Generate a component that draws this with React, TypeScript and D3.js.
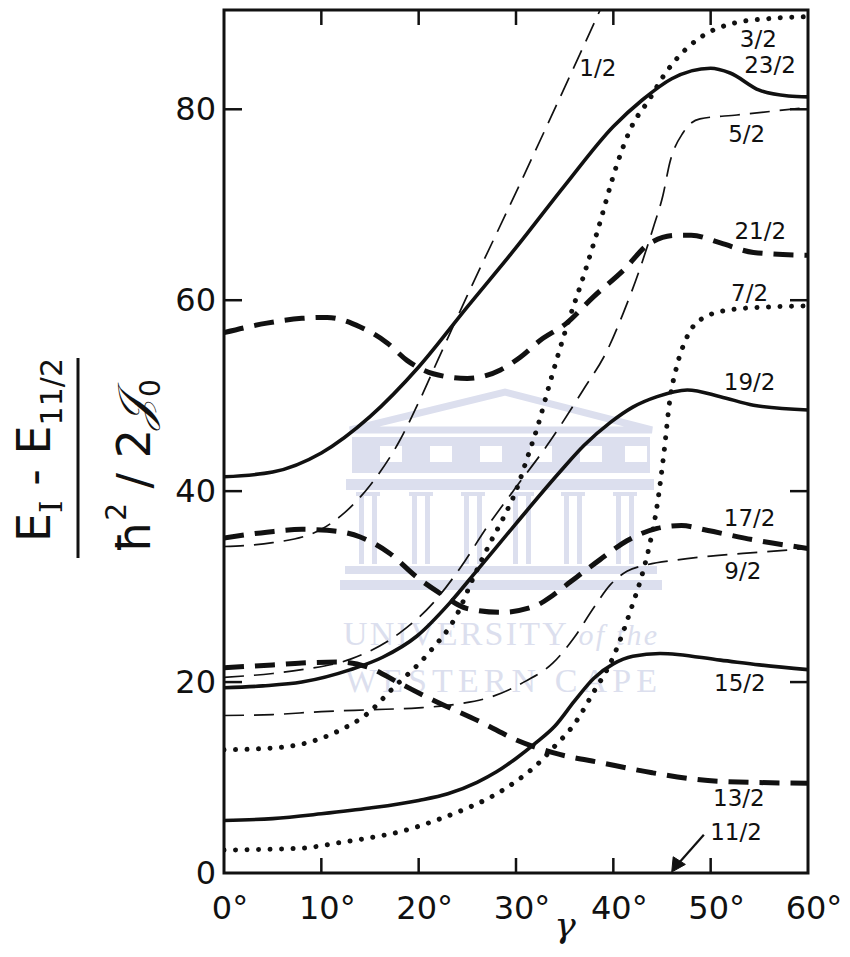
import React from "react";
import * as d3 from "d3";

const W = 850;
const H = 957;

// energy levels: [gamma (deg), (E_I - E_11/2) / (hbar^2 / 2J0)]
const level1_2 = [[0, 34.2], [5, 34.6], [10, 36], [12, 37.4], [15, 40.6], [18, 45.2], [20, 49.3], [22, 53.8], [25, 60.5], [30, 71.3], [35, 82.3], [39, 91.2]];
const level3_2 = [[0, 12.9], [5, 13.1], [8, 13.5], [12, 15], [14.5, 16.5], [17.4, 19.4], [20.9, 22.9], [24, 27.2], [25.6, 30.9], [27.3, 34.5], [28.7, 37.2], [30.1, 40.3], [31.1, 43.3], [32.2, 46.7], [33.5, 51.4], [35.2, 57.2], [36.9, 62.4], [38.3, 67], [40.4, 74.3], [41.7, 77.8], [43.8, 81.2], [45.1, 83.4], [46.6, 85.4], [48.9, 87.5], [52.3, 89], [56, 89.5], [60, 89.7]];
const level5_2 = [[0, 20.5], [5, 20.9], [8, 21.3], [13, 22.4], [18, 25.1], [21.5, 28.3], [24.3, 32], [27, 36.2], [29.7, 40], [33.2, 44.8], [36.9, 50.6], [39.4, 54.8], [41, 58.6], [42.8, 63.5], [44.1, 67.6], [45.1, 71], [45.8, 74.4], [47.2, 77.6], [48.9, 79], [52.7, 79.4], [60, 80.2]];
const level7_2 = [[0, 2.4], [5, 2.5], [8, 2.6], [12, 3.2], [15, 3.7], [18, 4.3], [22, 5.6], [25, 6.8], [27.5, 8], [30, 9.6], [32, 11.2], [34, 13.3], [36, 15.6], [38, 19], [39.7, 22], [40.7, 24.4], [41.9, 27.9], [42.8, 30.7], [43.6, 33.8], [44.5, 38.5], [45.2, 44], [45.8, 49.5], [46.5, 53], [47.5, 56], [49, 58], [52, 59], [56, 59.3], [60, 59.4]];
const level9_2 = [[0, 16.5], [5, 16.6], [10, 16.9], [15, 17.1], [20, 17.3], [24, 17.7], [27.6, 18.5], [31, 20.1], [33.8, 22], [36, 24.7], [38, 27.8], [39.7, 30.2], [41.4, 31.6], [43.5, 32.3], [46.6, 32.8], [50, 33.2], [55, 33.6], [60, 34]];
const level13_2 = [[0, 21.5], [5, 21.8], [8, 22], [12, 22.1], [14.7, 21.6], [18, 19.9], [21.5, 18.1], [26.6, 15.7], [30.1, 13.9], [33.8, 12.6], [39, 11.5], [44, 10.5], [51, 9.6], [60, 9.4]];
const level15_2 = [[0, 5.5], [5, 5.7], [10, 6.2], [15, 6.8], [20, 7.6], [23, 8.3], [26, 9.5], [28, 10.6], [30, 12], [32, 13.6], [34, 15.4], [36, 18], [38, 20.4], [40, 21.9], [42, 22.7], [44.8, 23], [51, 22.3], [55, 21.8], [60, 21.3]];
const level17_2 = [[0, 35.1], [4.4, 35.7], [8, 36], [10.6, 35.9], [14, 35.2], [17, 33.5], [19.8, 31], [22.2, 29.3], [25, 27.7], [28.4, 27.3], [31.8, 27.9], [33.8, 29.1], [35.6, 30.5], [38.6, 32.8], [41.4, 34.8], [44.5, 36.1], [47, 36.4], [49.6, 35.9], [54.4, 34.9], [60, 34]];
const level19_2 = [[0, 19.4], [4, 19.6], [8, 20], [13, 21.3], [16.3, 22.6], [19.8, 24.8], [23.2, 28.3], [26, 31.7], [30, 36.6], [34.5, 42], [37, 44.8], [39.7, 47.2], [42, 48.8], [44.5, 49.9], [47.6, 50.6], [51, 49.9], [54.4, 49], [60, 48.5]];
const level21_2 = [[0, 56.6], [4.4, 57.6], [8, 58.1], [10.6, 58.2], [14, 57.2], [16.8, 55.5], [18.8, 53.7], [21.5, 52.3], [25, 51.8], [28.4, 52.7], [30.4, 54], [32.5, 55.8], [35.2, 57.6], [37.9, 60.3], [41, 63.1], [43.8, 66], [46.5, 66.8], [48, 66.8], [51, 66], [54.4, 65], [60, 64.7]];
const level23_2 = [[0, 41.5], [5, 42], [10, 44], [15, 47.8], [20, 53], [25, 59.3], [30, 65.5], [35, 72], [40, 78.2], [43, 81], [46, 83.2], [50, 84.3], [52, 83.8], [55, 82], [58, 81.4], [60, 81.3]];

const gammaTicks = [0, 10, 20, 30, 40, 50, 60];
const energyTicks = [0, 20, 40, 60, 80];

// label name, style, data, label position [gamma, energy]
const levels = [
  { name: "1/2", style: "thin", data: level1_2, at: [38.4, 84.3] },
  { name: "3/2", style: "dot", data: level3_2, at: [54.9, 87.4] },
  { name: "5/2", style: "thin", data: level5_2, at: [53.7, 77.4] },
  { name: "7/2", style: "dot", data: level7_2, at: [54.0, 60.8] },
  { name: "9/2", style: "thin", data: level9_2, at: [53.3, 31.6] },
  { name: "13/2", style: "thick", data: level13_2, at: [52.9, 7.9] },
  { name: "15/2", style: "solid", data: level15_2, at: [53.0, 19.9] },
  { name: "17/2", style: "thick", data: level17_2, at: [54.0, 37.2] },
  { name: "19/2", style: "solid", data: level19_2, at: [54.0, 51.4] },
  { name: "21/2", style: "thick", data: level21_2, at: [55.1, 67.2] },
  { name: "23/2", style: "solid", data: level23_2, at: [56.1, 84.6] },
];

const styles: Record<string, any> = {
  solid: { strokeWidth: 3.6, dash: null, cap: "round" },
  thick: { strokeWidth: 5, dash: "20 11", cap: "butt" },
  thin: { strokeWidth: 1.7, dash: "20 10", cap: "butt" },
  dot: { strokeWidth: 5, dash: "0.01 11.5", cap: "round" },
};

const M = { left: 224, right: 808, top: 10, bottom: 873 };
const FONT = "'DejaVu Sans', sans-serif";
const WM = "#dcdfee";

function Watermark() {
  const cols = [368, 421, 473, 522, 573, 625];
  return (
    <g>
      <polygon points="350,430 505,392 652,430" fill="none" stroke={WM} strokeWidth={7} />
      <rect x={352} y={437} width={298} height={36} fill={WM} />
      {[380, 430, 480, 530, 580, 625].map((x, i) => (
        <rect key={i} x={x} y={446} width={22} height={16} fill="#fff" />
      ))}
      <rect x={346} y={479} width={308} height={11} fill={WM} />
      {cols.map((c, i) => (
        <g key={i}>
          <rect x={c - 9} y={492} width={5} height={72} fill={WM} />
          <rect x={c + 4} y={492} width={5} height={72} fill={WM} />
          <rect x={c - 12} y={492} width={24} height={4} fill={WM} />
        </g>
      ))}
      <rect x={345} y={566} width={312} height={8} fill={WM} />
      <rect x={340} y={580} width={322} height={10} fill={WM} />
      <text x={343} y={645} fill={WM} fontFamily="'Liberation Serif', serif" fontSize={34} textLength={314} lengthAdjust="spacing">
        UNIVERSITY<tspan fontStyle="italic" fontSize={30}> of the</tspan>
      </text>
      <text x={345} y={692} fill={WM} fontFamily="'Liberation Serif', serif" fontSize={34} textLength={312} lengthAdjust="spacing">
        WESTERN CAPE
      </text>
    </g>
  );
}

export default function App() {
  const x = d3.scaleLinear().domain([0, 60]).range([M.left, M.right]);
  const y = d3.scaleLinear().domain([0, 90.4]).range([M.bottom, M.top]);
  const line = d3
    .line<number[]>()
    .x((d) => x(d[0]))
    .y((d) => y(d[1]))
    .curve(d3.curveMonotoneX);

  return (
    <svg width={W} height={H} style={{ position: "absolute", left: 0, top: 0, background: "#fff" }}>
      <defs>
        <clipPath id="plot">
          <rect x={M.left} y={M.top} width={M.right - M.left} height={M.bottom - M.top} />
        </clipPath>
      </defs>
      <rect width={W} height={H} fill="#fff" />
      <Watermark />

      <g clipPath="url(#plot)" fill="none" stroke="#111">
        {levels.map((l) => {
          const s = styles[l.style];
          return (
            <path
              key={l.name}
              d={line(l.data) || ""}
              strokeWidth={s.strokeWidth}
              strokeDasharray={s.dash || undefined}
              strokeLinecap={s.cap}
              strokeLinejoin="round"
            />
          );
        })}
      </g>

      {/* frame */}
      <rect x={M.left} y={M.top} width={M.right - M.left} height={M.bottom - M.top} fill="none" stroke="#111" strokeWidth={3} />

      {/* ticks */}
      <g stroke="#111" strokeWidth={2.5}>
        {gammaTicks.slice(1, -1).map((t) => (
          <g key={t}>
            <line x1={x(t)} x2={x(t)} y1={M.bottom} y2={M.bottom - 15} />
            <line x1={x(t)} x2={x(t)} y1={M.top} y2={M.top + 15} />
          </g>
        ))}
        {energyTicks.slice(1).map((t) => (
          <g key={t}>
            <line x1={M.left} x2={M.left + 18} y1={y(t)} y2={y(t)} />
            <line x1={M.right} x2={M.right - 18} y1={y(t)} y2={y(t)} />
          </g>
        ))}
      </g>

      {/* tick labels */}
      <g fontFamily={FONT} fontSize={32} fill="#111">
        {gammaTicks.map((t) => (
          <text key={t} x={x(t) + 6} y={919} textAnchor="middle">
            {`${t}°`}
          </text>
        ))}
        {energyTicks.map((t) => (
          <text key={t} x={216} y={y(t)} textAnchor="end" dominantBaseline="central">
            {t}
          </text>
        ))}
      </g>

      {/* level labels */}
      <g fontFamily={FONT} fontSize={23} fill="#111">
        {levels.map((l) => (
          <text key={l.name} x={x(l.at[0])} y={y(l.at[1])} textAnchor="middle" dominantBaseline="central">
            {l.name}
          </text>
        ))}
        <text x={x(52.6)} y={y(4.3)} textAnchor="middle" dominantBaseline="central">
          11/2
        </text>
      </g>
      {/* arrow to the 11/2 reference level (the axis) */}
      <g stroke="#111" fill="#111">
        <line x1={x(49.3)} y1={y(4.0)} x2={x(46.6)} y2={y(0.9)} strokeWidth={2.2} />
        <polygon
          points={`${x(46.0)},${y(0.1)} ${x(46.15)},${y(1.7)} ${x(47.4)},${y(0.9)}`}
          strokeWidth={1}
        />
      </g>

      {/* x title */}
      <text x={565} y={937} fontFamily="'DejaVu Serif', serif" fontStyle="italic" fontSize={36} textAnchor="middle" fill="#111">
        γ
      </text>

      {/* y title: (E_I - E_11/2) / (ħ²/2𝒥₀) */}
      <g transform="translate(78,458) rotate(-90)" fontFamily={FONT} fill="#111">
        <line x1={-100} x2={100} y1={0} y2={0} stroke="#111" strokeWidth={3} />
        <text x={8} y={-28} textAnchor="middle" fontSize={46}>
          E<tspan fontSize={32} dy={12} fontFamily="'DejaVu Serif', serif">I</tspan>
          <tspan dy={-12}> - E</tspan>
          <tspan fontSize={30} dy={12}>11/2</tspan>
        </text>
        <text x={-8} y={72} textAnchor="middle" fontSize={46}>
          ħ<tspan fontSize={28} dy={-24}>2</tspan>
          <tspan dy={24}> / 2</tspan>
          <tspan fontFamily="'DejaVu Serif', serif" fontStyle="italic">𝒥</tspan>
          <tspan fontSize={28} dy={10}>0</tspan>
        </text>
      </g>
    </svg>
  );
}
